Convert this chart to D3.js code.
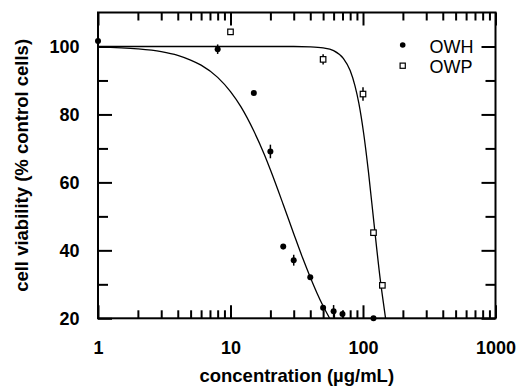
<!DOCTYPE html>
<html>
<head>
<meta charset="utf-8">
<script src="https://cdn.jsdelivr.net/npm/d3@7"></script>
<style>
  html, body { margin: 0; padding: 0; background: #fff; }
  svg { display: block; }
  text { font-family: "Liberation Sans", Arial, Helvetica, sans-serif; fill: #000; }
</style>
</head>
<body>
<svg id="chart" width="516" height="391"></svg>
<script>
// ---- data ----
const owhConc = [1, 8, 15, 20, 25, 30, 40, 50, 60, 70, 120];
const owhVal  = [101.6, 99.2, 86.3, 69.1, 41.1, 37.1, 32.1, 23.1, 22.1, 21.3, 20];
const owhErr  = [0.4, 1.4, 0.5, 2.0, 0.8, 1.6, 0.5, 0.8, 1.8, 0.5, 0.5];

const owpConc = [10, 50, 100, 120, 140];
const owpVal  = [104.3, 96.2, 86.0, 45.2, 29.7];
const owpErr  = [0.3, 1.5, 2.0, 0.8, 0.5];

// fitted curves
const owhCurveConc = [1, 2, 3, 4, 5, 6, 8, 10, 12, 15, 18, 20, 25, 30, 35, 40, 45, 50, 56];
const owhCurveVal  = [99.8, 99.3, 98.5, 97.4, 96.0, 94.5, 90.9, 86.7, 82.2, 75.1, 68.2, 63.7, 53.5, 44.9, 37.8, 32.1, 27.4, 23.6, 20];
const owpCurveConc = [1, 10, 30, 40, 50, 60, 71, 80, 87, 93, 101, 110, 121, 135, 145, 148];
const owpCurveVal  = [100, 100, 100, 99.9, 99.6, 98.8, 96.5, 92.9, 88.4, 83.3, 74.6, 63.0, 48.0, 31.4, 22.5, 20];

const xMajorTicks = [1, 10, 100, 1000];
const xMinorTicks = [2,3,4,5,6,7,8,9,20,30,40,50,60,70,80,90,200,300,400,500,600,700,800,900];
const yMajorTicks = [20, 40, 60, 80, 100];
const yMinorTicks = [30, 50, 70, 90];

const legendLabels = ["OWH", "OWP"];
const xTitle = "concentration (\u00b5g/mL)";
const yTitle = "cell viability (% control cells)";

// ---- layout ----
const W = 516, H = 391;
const m = { left: 98, right: 20.5, top: 12.5, bottom: 72.7 };
const iw = W - m.left - m.right, ih = H - m.top - m.bottom;

const svg = d3.select("#chart");
const g = svg.append("g").attr("transform", `translate(${m.left},${m.top})`);

const x = d3.scaleLog().domain([1, 1000]).range([0, iw]);
const y = d3.scaleLinear().domain([20, 110]).range([ih, 0]);

const FONT = 18;

function styleAxis(sel) {
  sel.select(".domain").remove();
  sel.selectAll(".tick line").attr("stroke", "#000").attr("stroke-width", 2);
}

// bottom axis
g.append("g").attr("transform", `translate(0,${ih})`)
  .call(d3.axisBottom(x).tickValues(xMajorTicks).tickFormat(d3.format("d")).tickSize(-13).tickPadding(23))
  .call(styleAxis)
  .selectAll("text").attr("font-size", FONT).attr("font-weight", "bold")
  .attr("font-family", '"Liberation Sans", Arial, sans-serif').attr("fill", "#000");
g.append("g").attr("transform", `translate(0,${ih})`)
  .call(d3.axisBottom(x).tickValues(xMinorTicks).tickFormat("").tickSize(-8))
  .call(styleAxis);

// top axis
g.append("g")
  .call(d3.axisTop(x).tickValues(xMajorTicks).tickFormat("").tickSize(-13))
  .call(styleAxis);
g.append("g")
  .call(d3.axisTop(x).tickValues(xMinorTicks).tickFormat("").tickSize(-8))
  .call(styleAxis);

// left axis
g.append("g")
  .call(d3.axisLeft(y).tickValues(yMajorTicks).tickFormat(d3.format("d")).tickSize(-14).tickPadding(18.5))
  .call(styleAxis)
  .selectAll("text").attr("font-size", FONT).attr("font-weight", "bold")
  .attr("font-family", '"Liberation Sans", Arial, sans-serif').attr("fill", "#000");
g.append("g")
  .call(d3.axisLeft(y).tickValues(yMinorTicks).tickFormat("").tickSize(-10))
  .call(styleAxis);

// right axis
g.append("g").attr("transform", `translate(${iw},0)`)
  .call(d3.axisRight(y).tickValues(yMajorTicks).tickFormat("").tickSize(-14))
  .call(styleAxis);
g.append("g").attr("transform", `translate(${iw},0)`)
  .call(d3.axisRight(y).tickValues(yMinorTicks).tickFormat("").tickSize(-10))
  .call(styleAxis);

// frame
g.append("rect").attr("x", 0).attr("y", 0).attr("width", iw).attr("height", ih)
  .attr("fill", "none").attr("stroke", "#000").attr("stroke-width", 2);

// curves
const line = d3.line().x(d => x(d[0])).y(d => y(d[1])).curve(d3.curveMonotoneX);
g.append("path").datum(d3.zip(owhCurveConc, owhCurveVal))
  .attr("d", line).attr("fill", "none").attr("stroke", "#000").attr("stroke-width", 1.3);
g.append("path").datum(d3.zip(owpCurveConc, owpCurveVal))
  .attr("d", line).attr("fill", "none").attr("stroke", "#000").attr("stroke-width", 1.3);

// error bars
function errBars(conc, val, err) {
  g.append("g").selectAll("line").data(d3.range(conc.length)).join("line")
    .attr("x1", i => x(conc[i])).attr("x2", i => x(conc[i]))
    .attr("y1", i => y(val[i] - err[i])).attr("y2", i => y(val[i] + err[i]))
    .attr("stroke", "#000").attr("stroke-width", 1.5);
}
errBars(owhConc, owhVal, owhErr);
errBars(owpConc, owpVal, owpErr);

// OWH points
g.append("g").selectAll("circle").data(d3.range(owhConc.length)).join("circle")
  .attr("cx", i => x(owhConc[i])).attr("cy", i => y(owhVal[i])).attr("r", 3)
  .attr("fill", "#000");

// OWP points
const sq = 5.5;
g.append("g").selectAll("rect").data(d3.range(owpConc.length)).join("rect")
  .attr("x", i => x(owpConc[i]) - sq / 2).attr("y", i => y(owpVal[i]) - sq / 2)
  .attr("width", sq).attr("height", sq)
  .attr("fill", "#fff").attr("stroke", "#000").attr("stroke-width", 1.2);

// legend
const lg = svg.append("g");
lg.append("circle").attr("cx", 402.7).attr("cy", 45).attr("r", 2.8).attr("fill", "#000");
lg.append("rect").attr("x", 402.7 - 2.6).attr("y", 65.7 - 2.6).attr("width", 5.2).attr("height", 5.2)
  .attr("fill", "#fff").attr("stroke", "#000").attr("stroke-width", 1.2);
lg.selectAll("text").data(legendLabels).join("text")
  .attr("x", 429.5).attr("y", (d, i) => 52.7 + i * 20.6)
  .attr("font-size", FONT).text(d => d);

// axis titles
svg.append("text").attr("x", m.left + iw / 2).attr("y", 381.5)
  .attr("text-anchor", "middle").attr("font-size", 18.5).attr("font-weight", "bold")
  .text(xTitle);
svg.append("text").attr("transform", `translate(28.3,${m.top + ih / 2}) rotate(-90)`)
  .attr("text-anchor", "middle").attr("font-size", 18.5).attr("font-weight", "bold")
  .text(yTitle);
</script>
</body>
</html>
